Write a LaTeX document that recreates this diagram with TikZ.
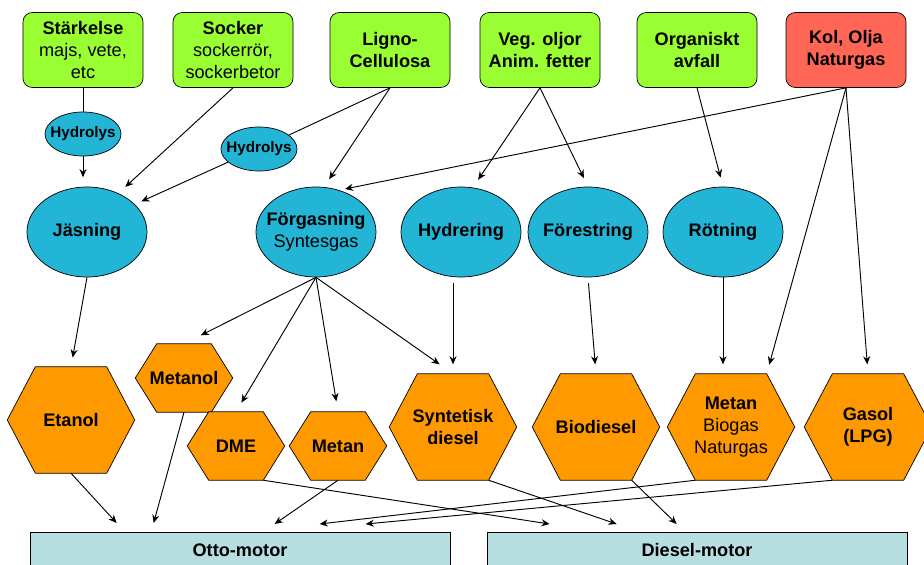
\documentclass[tikz,border=0pt]{standalone}
\usepackage{fontspec}
\setmainfont{Liberation Sans}
\usetikzlibrary{shapes.geometric,calc,backgrounds,arrows.meta}
\definecolor{groen}{HTML}{99FF33}
\definecolor{roed}{HTML}{FF6655}
\definecolor{blaa}{HTML}{22B5D6}
\definecolor{orang}{HTML}{FF9900}
\definecolor{ljusbla}{HTML}{B7DFE2}
\tikzset{
  txt/.style={font=\fontsize{15.5}{18.5}\selectfont, align=center, inner sep=0pt},
  kalla/.style={txt, draw, line width=0.6pt, rounded corners=8pt, fill=groen, minimum width=3.6cm, minimum height=2.25cm},
  fossil/.style={kalla, fill=roed},
  process/.style={txt, ellipse, draw, line width=0.6pt, fill=blaa, minimum width=3.6cm, minimum height=2.7cm, inner xsep=-7pt},
  hydro/.style={process, minimum width=2.28cm, minimum height=1.32cm, font=\fontsize{13}{15}\selectfont\bfseries},
  bransle/.style={txt, minimum width=3.81cm, minimum height=3.18cm},
  bransleliten/.style={bransle, minimum width=2.91cm, minimum height=2.04cm},
  hexa/.style={draw, line width=0.6pt, fill=orang},
  motor/.style={txt, draw, line width=0.6pt, fill=ljusbla, minimum width=12.6cm, minimum height=1.08cm, anchor=north, font=\fontsize{15.5}{18.5}\selectfont\bfseries},
  pil/.style={-{Stealth[length=7pt,width=6pt]}, line width=0.8pt, shorten >=8pt},
  linje/.style={line width=0.8pt}
}
\begin{document}
\begin{tikzpicture}[x=0.03cm,y=-0.03cm]
  \useasboundingbox (0,0) rectangle (924,565);
  \node[kalla] (stark) at (83,50) {\textbf{Stärkelse}\\majs, vete,\\etc};
  \node[kalla] (socker) at (233,50) {\textbf{Socker}\\sockerrör,\\sockerbetor};
  \node[kalla] (ligno) at (390,50) {\textbf{Ligno-}\\\textbf{Cellulosa}};
  \node[kalla] (veg) at (540,50) {\textbf{Veg. oljor}\\\textbf{Anim. fetter}};
  \node[kalla] (org) at (697,50) {\textbf{Organiskt}\\\textbf{avfall}};
  \node[fossil] (kol) at (846,50) {\textbf{Kol, Olja}\\\textbf{Naturgas}};

  \node[hydro] (hyd1) at (83,134) {Hydrolys};
  \node[hydro] (hyd2) at (259,149) {Hydrolys};

  \node[process] (jas) at (87,232) {\textbf{Jäsning}};
  \node[process] (forg) at (316,232) {\textbf{Förgasning}\\Syntesgas};
  \node[process] (hydr) at (461,232) {\textbf{Hydrering}};
  \node[process] (fore) at (588,232) {\textbf{Förestring}};
  \node[process] (rot) at (723,232) {\textbf{Rötning}};

  \node[bransle] (etanol) at (71,420) {\textbf{Etanol}};
  \node[bransleliten] (metanol) at (184,378) {\textbf{Metanol}};
  \node[bransleliten] (dme) at (236,446) {\textbf{DME}};
  \node[bransleliten] (metan) at (338,446) {\textbf{Metan}};
  \node[bransle] (synt) at (453,427) {\textbf{Syntetisk}\\\textbf{diesel}};
  \node[bransle] (bio) at (596,427) {\textbf{Biodiesel}};
  \node[bransle] (metbio) at (731,427) {\textbf{Metan}\\Biogas\\Naturgas};
  \node[bransle] (gasol) at (868,427) {\textbf{Gasol}\\\textbf{(LPG)}};

  \node[motor] (otto) at (240,532) {Otto-motor};
  \node[motor] (diesel) at (697,532) {Diesel-motor};

  \begin{scope}[on background layer]
    \foreach \h in {etanol,metanol,dme,metan,synt,bio,metbio,gasol}{
      \path ($(\h.north west)!0.22!(\h.north east)$) coordinate (\h-nw)
            ($(\h.north west)!0.78!(\h.north east)$) coordinate (\h-ne)
            ($(\h.south west)!0.78!(\h.south east)$) coordinate (\h-se)
            ($(\h.south west)!0.22!(\h.south east)$) coordinate (\h-sw);
      \draw[hexa] (\h.west) -- (\h-nw) -- (\h-ne) -- (\h.east) -- (\h-se) -- (\h-sw) -- cycle;
    }
  \end{scope}

  \draw[linje] (stark.south) -- (hyd1.north);
  \draw[pil] (hyd1.south) -- (hyd1.south |- jas.north);
  \draw[pil] (socker.south) -- (jas.51);
  \draw[linje] (ligno.south) -- (hyd2.25);
  \draw[pil, shorten >=6pt] (hyd2.203) -- (jas.30);
  \draw[pil] (ligno.south) -- (forg.80);
  \draw[pil, shorten >=5pt] (kol.south) -- (forg.61);
  \draw[pil] (veg.south) -- (hydr.75);
  \draw[pil] (veg.south) -- (fore.north);
  \draw[pil] (org.south) -- (rot.north);
  \draw[pil] (kol.south) -- (metbio-ne);
  \draw[pil] (kol.south) -- (gasol.north);

  \draw[pil] (jas.south) -- (etanol.north);
  \draw[pil, shorten >=16pt] (forg.south) -- (metanol.north);
  \draw[pil, shorten >=9pt] (forg.south) -- (dme.north);
  \draw[pil, shorten >=9pt] (forg.south) -- (metan.north);
  \draw[pil, shorten >=14pt] (forg.south) -- (synt.north);
  \draw[pil, shorten <=5pt] (synt.north |- hydr.south) -- (synt.north);
  \draw[pil, shorten <=5pt] (fore.south) -- (bio.north);
  \draw[pil] (rot.south) -- (rot.south |- metbio.north);

  \draw[pil, shorten >=0pt] (etanol.south) -- ($(otto.north west)+(87,-9)$);
  \draw[pil, shorten >=0pt] (metanol.south) -- ($(otto.north west)+(124,-9)$);
  \draw[pil, shorten >=0pt] (metan.south) -- ($(otto.north west)+(245,-8)$);
  \draw[pil, shorten >=0pt] (metbio-sw) -- ($(otto.north west)+(290,-8)$);
  \draw[pil, shorten >=0pt] (gasol-sw) -- ($(otto.north west)+(336,-8)$);
  \draw[pil, shorten >=0pt] (dme-se) -- ($(diesel.north west)+(63,-8)$);
  \draw[pil, shorten >=0pt] (synt-se) -- ($(diesel.north west)+(130,-8)$);
  \draw[pil, shorten >=0pt] (bio-se) -- ($(diesel.north west)+(190,-8)$);
\end{tikzpicture}
\end{document}
